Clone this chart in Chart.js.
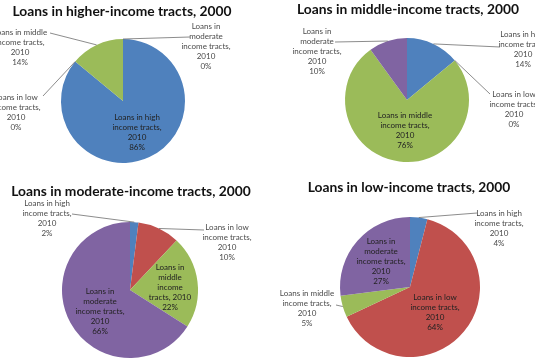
<!DOCTYPE html>
<html>
<head>
<meta charset="utf-8">
<script src="https://cdn.jsdelivr.net/npm/chart.js@4/dist/chart.umd.min.js"></script>
<style>
    body { margin: 0; background: #fff; }
    #wrap { position: relative; width: 535px; height: 360px; }
    #wrap canvas { position: absolute; left: 0; top: 0; }
</style>
</head>
<body>
<div id="wrap">
    <canvas id="chart-higher" width="535" height="360"></canvas>
    <canvas id="chart-middle" width="535" height="360"></canvas>
    <canvas id="chart-moderate" width="535" height="360"></canvas>
    <canvas id="chart-low" width="535" height="360"></canvas>
</div>
<script>
// slice categories (clockwise from 12 o'clock)
const categories = [
    'Loans in high income tracts, 2010',
    'Loans in low income tracts, 2010',
    'Loans in middle income tracts, 2010',
    'Loans in moderate income tracts, 2010'
];
const sliceColors = ['#4F81BD', '#C0504D', '#9BBB59', '#8064A2'];

// percent shares, one array per 2000 tract group
const higherIncome2000 = [86, 0, 14, 0];
const middleIncome2000 = [14, 0, 76, 10];
const moderateIncome2000 = [2, 10, 22, 66];
const lowIncome2000 = [4, 64, 5, 27];

const titles = [
    'Loans in higher-income tracts, 2000',
    'Loans in middle-income tracts, 2000',
    'Loans in moderate-income tracts, 2000',
    'Loans in low-income tracts, 2000'
];

const FONT = 'Lato, "Open Sans", sans-serif';

// where each label sits; words = words per line, pct line is added after
const labelLayouts = [
    [
        { i: 0, x: 137, y: 117, words: [3, 2, 1], inside: true },
        { i: 1, x: 16, y: 97, words: [3, 2, 1], end: [43, 96] },
        { i: 2, x: 20, y: 32, words: [3, 2, 1], end: [50, 33] },
        { i: 3, x: 206, y: 26, words: [2, 1, 2, 1], end: [190, 37] }
    ],
    [
        { i: 0, x: 523, y: 34, words: [3, 2, 1], end: [500, 47] },
        { i: 1, x: 514, y: 94, words: [3, 2, 1], end: [490, 94] },
        { i: 2, x: 405, y: 115, words: [3, 2, 1], inside: true },
        { i: 3, x: 317, y: 31, words: [2, 1, 2, 1], end: [335, 42] }
    ],
    [
        { i: 0, x: 47, y: 203, words: [3, 2, 1], end: [72, 214] },
        { i: 1, x: 227, y: 227, words: [3, 2, 1], end: [204, 230] },
        { i: 2, x: 170, y: 267, words: [2, 1, 1, 2], inside: true },
        { i: 3, x: 100, y: 291, words: [2, 1, 2, 1], inside: true }
    ],
    [
        { i: 0, x: 499, y: 213, words: [3, 2, 1], end: [477, 213] },
        { i: 1, x: 435, y: 297, words: [3, 2, 1], inside: true },
        { i: 2, x: 307, y: 293, words: [3, 2, 1], end: [336, 305] },
        { i: 3, x: 381, y: 241, words: [2, 1, 2, 1], inside: true }
    ]
];

function splitLines(text, counts) {
    const words = text.split(' ');
    const lines = [];
    let k = 0;
    counts.forEach(n => {
        lines.push(words.slice(k, k + n).join(' '));
        k += n;
    });
    return lines;
}

// draws the title, data labels and leader lines
const pieLabels = {
    id: 'pieLabels',
    afterDraw(chart, args, opts) {
        const ctx = chart.ctx;
        const meta = chart.getDatasetMeta(0);
        const values = chart.data.datasets[0].data;
        ctx.save();

        ctx.font = 'bold 13.8px ' + FONT;
        ctx.fillStyle = '#111';
        ctx.textAlign = 'center';
        ctx.textBaseline = 'middle';
        ctx.fillText(opts.title, opts.titleX, opts.titleY);

        opts.layout.forEach(lab => {
            const arc = meta.data[lab.i];
            if (lab.end) {
                const mid = (arc.startAngle + arc.endAngle) / 2;
                const sx = arc.x + Math.cos(mid) * arc.outerRadius;
                const sy = arc.y + Math.sin(mid) * arc.outerRadius;
                ctx.strokeStyle = '#6f6f6f';
                ctx.lineWidth = 0.8;
                ctx.beginPath();
                ctx.moveTo(sx, sy);
                ctx.lineTo(lab.end[0], lab.end[1]);
                ctx.stroke();
            }
            const lines = splitLines(chart.data.labels[lab.i], lab.words);
            lines.push(values[lab.i] + '%');
            ctx.font = '8px ' + FONT;
            ctx.fillStyle = lab.inside ? '#222' : '#4a4a4a';
            lines.forEach((line, n) => {
                ctx.fillText(line, lab.x, lab.y + n * 10.2);
            });
        });
        ctx.restore();
    }
};

function renderPie(canvasId, values, title, titleX, titleY, cx, cy, r, layout) {
    new Chart(document.getElementById(canvasId), {
        type: 'pie',
        data: {
            labels: categories,
            datasets: [{
                data: values,
                backgroundColor: sliceColors,
                borderWidth: 0
            }]
        },
        options: {
            responsive: false,
            animation: false,
            events: [],
            layout: {
                padding: {
                    left: cx - r,
                    right: 535 - cx - r,
                    top: cy - r,
                    bottom: 360 - cy - r
                }
            },
            plugins: {
                legend: { display: false },
                tooltip: { enabled: false },
                pieLabels: { title, titleX, titleY, layout }
            }
        },
        plugins: [pieLabels]
    });
}

renderPie('chart-higher', higherIncome2000, titles[0], 122, 12, 123, 101, 62, labelLayouts[0]);
renderPie('chart-middle', middleIncome2000, titles[1], 408, 10, 407, 100, 62, labelLayouts[1]);
renderPie('chart-moderate', moderateIncome2000, titles[2], 131, 192, 130, 290, 68, labelLayouts[2]);
renderPie('chart-low', lowIncome2000, titles[3], 409, 188, 410, 287, 70, labelLayouts[3]);
</script>
</body>
</html>
